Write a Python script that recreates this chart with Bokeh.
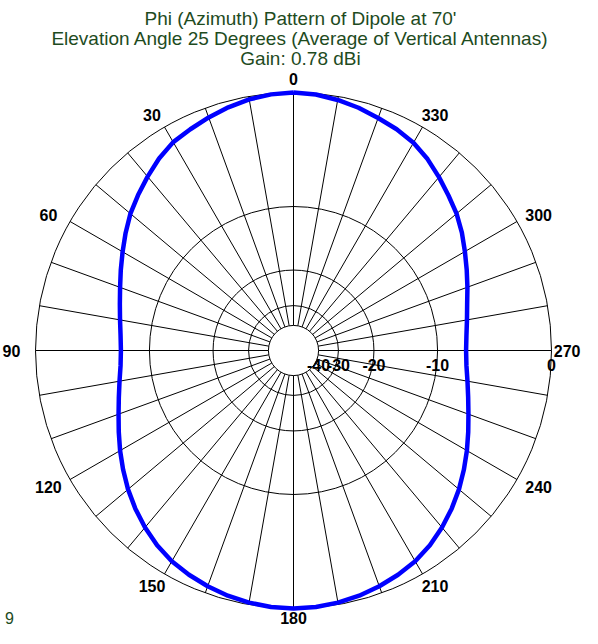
import numpy as np
from bokeh.plotting import figure
from bokeh.models import Range1d
from bokeh.embed import file_html
from bokeh.resources import INLINE
from bokeh.core.properties import value

# ---------------- data ----------------
title_lines = [
    "Phi (Azimuth) Pattern of Dipole at 70'",
    "Elevation Angle 25 Degrees (Average of Vertical Antennas)",
    "Gain: 0.78 dBi",
]
azimuth_deg = list(range(0, 360, 5))
gain_db = [
    0.0, -0.06, -0.2, -0.42, -0.68, -0.95, -1.2, -1.65, -2.2, -2.75,
    -3.3, -3.95, -4.6, -5.2, -5.75, -6.2, -6.55, -6.8, -6.9, -6.8,
    -6.5, -6.1, -5.6, -5.0, -4.35, -3.7, -3.05, -2.45, -1.9, -1.4,
    -1.0, -0.72, -0.48, -0.28, -0.13, -0.04, 0.0, -0.04, -0.13, -0.28,
    -0.48, -0.72, -1.0, -1.4, -1.9, -2.45, -3.05, -3.7, -4.35, -5.0,
    -5.6, -6.1, -6.5, -6.8, -6.9, -6.8, -6.55, -6.2, -5.7, -5.15,
    -4.55, -3.9, -3.3, -2.8, -2.25, -1.7, -1.25, -0.95, -0.72, -0.45,
    -0.24, -0.07,
]
ring_db = [0, -10, -20, -30, -40]
ring_labels = ["0", "-10", "-20", "-30", "-40"]
spoke_deg = list(range(0, 360, 10))
angle_label_deg = list(range(0, 360, 30))
angle_labels = ["0", "30", "60", "90", "120", "150", "180", "210", "240", "270", "300", "330"]
footer_text = ["9"]

# ---------------- layout ----------------
W, H = 582, 628
X0, Y0 = 6, 12            # visible window onto the reference coordinates
CX, CY, R = 299.0, 362.0, 258.0
GREEN = "#1e4b1e"
FONT = value("Liberation Sans")
LAB_FS = 16
EM_HALF = 0.62 * LAB_FS   # half of the text box height used to keep labels inside


def arrl_r(db):
    db = np.asarray(db, dtype=float)
    return R * 0.89 ** (-db / 2.0)


def polar(az_deg, r):
    a = np.radians(np.asarray(az_deg, dtype=float))
    return CX - r * np.sin(a), CY - r * np.cos(a)


p = figure(width=W, height=H, output_backend="svg", toolbar_location=None,
           x_range=Range1d(X0, X0 + W), y_range=Range1d(Y0 + H, Y0),
           min_border=0)
p.axis.visible = False
p.grid.visible = False
p.outline_line_color = None
p.background_fill_color = "white"
p.border_fill_color = "white"

# rings
ring_r = arrl_r(ring_db)
p.circle(x=[CX] * len(ring_r), y=[CY] * len(ring_r), radius=list(ring_r),
         fill_color=None, line_color="black", line_width=1)

# spokes
r_in = float(arrl_r(min(ring_db)))
sx0, sy0 = polar(spoke_deg, r_in)
sx1, sy1 = polar(spoke_deg, R)
p.segment(x0=sx0, y0=sy0, x1=sx1, y1=sy1, line_color="black", line_width=1)

# pattern
pr = arrl_r(gain_db)
px, py = polar(azimuth_deg, pr)
px = list(px) + [px[0]]
py = list(py) + [py[0]]
p.line(px, py, line_color="#0000ff", line_width=4.5, line_join="round")

# angle labels
lx, ly = [], []
for a, t in zip(angle_label_deg, angle_labels):
    rad = np.radians(a)
    x = CX - (R + 25) * np.sin(rad)
    y = CY - (R + 14) * np.cos(rad)
    half_w = len(t) * 0.556 * LAB_FS / 2
    x = min(max(x, X0 + half_w + 2), X0 + W - half_w - 2)
    y = min(max(y, Y0 + EM_HALF + 1), Y0 + H - EM_HALF - 0.5)
    lx.append(x)
    ly.append(y)
p.text(x=lx, y=ly, text=angle_labels, text_font=FONT, text_font_style="bold",
       text_font_size=value(f"{LAB_FS}px"), text_align="center",
       text_baseline="middle", text_color="black")

# ring labels (below the 270 spoke)
p.text(x=list(CX + ring_r), y=[CY + 14] * len(ring_r), text=ring_labels,
       text_font=FONT, text_font_style="bold", text_font_size=value(f"{LAB_FS}px"),
       text_align="center", text_baseline="middle", text_color="black")

# title
p.text(x=[306, 306, 306], y=[29.5, 50, 70], text=title_lines, text_font=FONT,
       text_font_size=value("19px"), text_align="center",
       text_baseline="alphabetic", text_color=GREEN)

# footer fragment
p.text(x=[15], y=[Y0 + H - EM_HALF - 0.5], text=footer_text, text_font=FONT,
       text_font_size=value(f"{LAB_FS}px"), text_align="center",
       text_baseline="middle", text_color=GREEN)

open("out.html", "w").write(file_html(p, INLINE))
